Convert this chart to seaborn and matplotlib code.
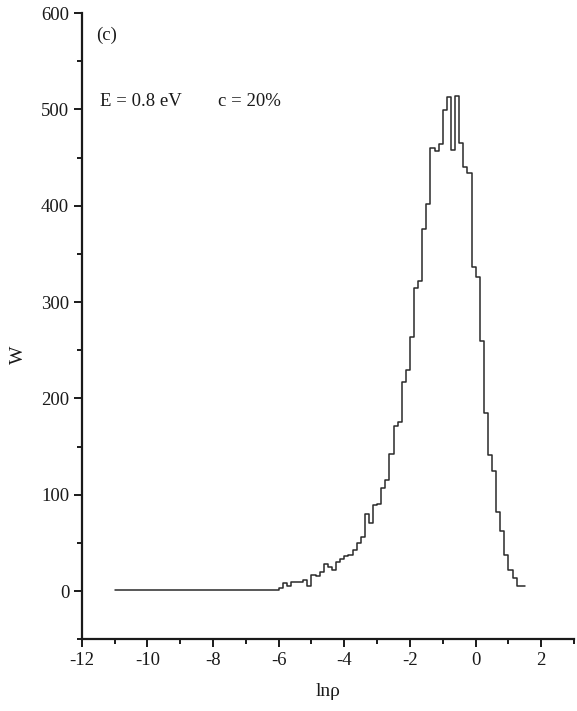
import numpy as np
import pandas as pd
import matplotlib
matplotlib.use("Agg")
import matplotlib.pyplot as plt
from matplotlib.ticker import MultipleLocator
import seaborn as sns

# ---- data (W per ln(rho) bin) ----
# flat background segment from ln(rho) = -11 to -6
flat_left = -11.0
flat_right = -6.0
flat_value = 1
# bins of width 0.125 starting at ln(rho) = -6
bin_start = -6.0
bin_width = 0.125
w_values = [
    3, 8, 5, 10, 9, 9, 12, 5,            # -6.0 .. -5.0
    17, 16, 20, 28, 25, 22, 30, 33,      # -5.0 .. -4.0
    36, 38, 43, 50, 56, 80, 71, 89,      # -4.0 .. -3.0
    90, 107, 115, 142,                   # -3.0 .. -2.5
    171, 176, 217, 229, 264, 315, 322, 376,   # -2.5 .. -1.5
    402, 460, 457, 464, 499, 513, 458, 514,   # -1.5 .. -0.5
    465, 440, 434,                       # -0.5 .. -0.125
    336, 326, 260, 185, 141, 125, 82, 62,     # -0.125 .. 0.875
    38, 22, 14, 5, 5,                    # 0.875 .. 1.5
]
x_ticks = [-12, -10, -8, -6, -4, -2, 0, 2]
y_ticks = [0, 100, 200, 300, 400, 500, 600]
panel_label = "(c)"
energy_text = "E = 0.8 eV"
conc_text = "c = 20%"
x_label = "ln\u03c1"
y_label = "W"

# ---- build the histogram table ----
edges = np.concatenate([[flat_left], bin_start + bin_width * np.arange(len(w_values) + 1)])
heights = np.concatenate([[flat_value], w_values])
centers = (edges[:-1] + edges[1:]) / 2
df = pd.DataFrame({"lnrho": centers, "W": heights})

sns.set_style("ticks")
plt.rcParams["font.family"] = ["Liberation Serif", "DejaVu Serif"]
plt.rcParams["axes.unicode_minus"] = False

fig = plt.figure(figsize=(5.77, 7.11), dpi=100)
ax = fig.add_axes([0.1416, 0.1008, 0.8534, 0.8809])

sns.histplot(data=df, x="lnrho", weights="W", bins=[float(e) for e in edges],
             element="step", fill=False, color="#2a2a2a", linewidth=1.1, ax=ax)

ax.set_xlim(-12, 3)
ax.set_ylim(-50, 600)
ax.set_xticks(x_ticks)
ax.set_yticks(y_ticks)
ax.xaxis.set_minor_locator(MultipleLocator(1))
ax.yaxis.set_minor_locator(MultipleLocator(50))
ax.tick_params(which="major", direction="out", length=6, width=1.4,
               labelsize=13.5, pad=3, colors="#1a1a1a")
ax.tick_params(which="minor", direction="out", length=3.5, width=1.4,
               colors="#1a1a1a")
for s in ["top", "right"]:
    ax.spines[s].set_visible(False)
for s in ["left", "bottom"]:
    ax.spines[s].set_linewidth(1.6)
    ax.spines[s].set_color("#1a1a1a")

ax.set_xlabel(x_label, fontsize=14, labelpad=10, color="#1a1a1a")
ax.set_ylabel(y_label, fontsize=14, color="#1a1a1a")
ax.yaxis.set_label_coords(-0.112, 0.455)

ax.text(0.029, 0.965, panel_label, transform=ax.transAxes, fontsize=13.5,
        ha="left", va="center", color="#1a1a1a")
ax.text(0.037, 0.858, energy_text, transform=ax.transAxes, fontsize=13.5,
        ha="left", va="center", color="#1a1a1a")
ax.text(0.277, 0.858, conc_text, transform=ax.transAxes, fontsize=13.5,
        ha="left", va="center", color="#1a1a1a")

fig.savefig("out.png", dpi=100)
